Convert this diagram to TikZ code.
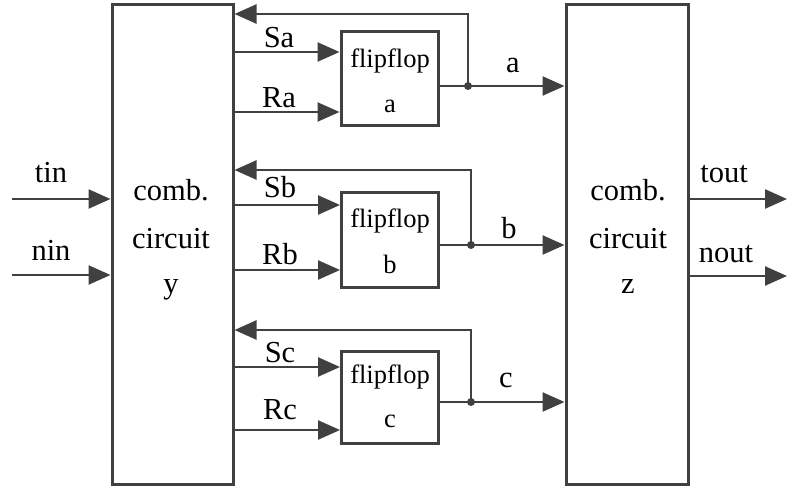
\documentclass[tikz,border=0pt]{standalone}
\usepackage{fontspec}
\setmainfont{Liberation Serif}
\usetikzlibrary{arrows.meta,calc}
\begin{document}
\begin{tikzpicture}[x=1pt,y=-1pt,
  ln/.style={draw=black!75, line width=2.5pt},
  arr/.style={ln, -{Triangle[length=22pt,width=19pt]}},
  blk/.style={draw=black!75, line width=3pt, fill=white, inner sep=0pt},
  lbl/.style={anchor=base, inner sep=0pt, font=\fontsize{30.5}{36}\selectfont},
  ftxt/.style={anchor=base, inner sep=0pt, font=\fontsize{26.5}{32}\selectfont},
  dot/.style={fill=black!75}]
\useasboundingbox (0,0) rectangle (787,489);

% main blocks
\node[blk, minimum width=121pt, minimum height=479pt] (Y) at (172.5,244.5) {};
\node[blk, minimum width=122pt, minimum height=479pt] (Z) at (627,244.5) {};
\node[lbl] (y1) at (171,201) {comb.};
\node[lbl] (y2) at (171,248) {circuit};
\node[lbl] (y3) at (171,293) {y};
\node[lbl] (z1) at (628,201) {comb.};
\node[lbl] (z2) at (628,248) {circuit};
\node[lbl] (z3) at (628,293) {z};

% flipflops
\node[blk, minimum width=97pt, minimum height=94pt] (fa) at (389.5,79) {};
\node[blk, minimum width=97pt, minimum height=94pt] (fb) at (390,240) {};
\node[blk, minimum width=97pt, minimum height=92pt] (fc) at (390,397) {};
\node[ftxt] (fa1) at (390,68) {flipflop};
\node[ftxt] (fa2) at (390,113) {a};
\node[ftxt] (fb1) at (390,228) {flipflop};
\node[ftxt] (fb2) at (390,273) {b};
\node[ftxt] (fc1) at (390,383) {flipflop};
\node[ftxt] (fc2) at (390,427) {c};

% inputs
\coordinate (tin0) at (12,199);
\coordinate (nin0) at (12,275);
\draw[arr] (tin0) -- (Y.west |- tin0);
\draw[arr] (nin0) -- (Y.west |- nin0);
\node[lbl] (ltin) at (51,183) {tin};
\node[lbl] (lnin) at (51,260) {nin};

% outputs
\coordinate (tout0) at (787,199);
\coordinate (nout0) at (787,276);
\draw[arr] (Z.east |- tout0) -- (tout0);
\draw[arr] (Z.east |- nout0) -- (nout0);
\node[lbl] (ltout) at (724,183) {tout};
\node[lbl] (lnout) at (726,262) {nout};

% set / reset lines
\coordinate (sa) at (0,52);  \coordinate (ra) at (0,112);
\coordinate (sb) at (0,205); \coordinate (rb) at (0,270);
\coordinate (sc) at (0,367); \coordinate (rc) at (0,430);
\draw[arr] (Y.east |- sa) -- (fa.west |- sa);
\draw[arr] (Y.east |- ra) -- (fa.west |- ra);
\draw[arr] (Y.east |- sb) -- (fb.west |- sb);
\draw[arr] (Y.east |- rb) -- (fb.west |- rb);
\draw[arr] (Y.east |- sc) -- (fc.west |- sc);
\draw[arr] (Y.east |- rc) -- (fc.west |- rc);
\node[lbl] (lSa) at (279,48) {Sa};
\node[lbl] (lRa) at (279,108) {Ra};
\node[lbl] (lSb) at (280,198) {Sb};
\node[lbl] (lRb) at (280,265) {Rb};
\node[lbl] (lSc) at (280,362) {Sc};
\node[lbl] (lRc) at (280,419) {Rc};

% outputs of flipflops with feedback
\coordinate (ja) at (468,86);  \coordinate (ka) at (468,14);
\coordinate (jb) at (471,245); \coordinate (kb) at (471,170);
\coordinate (jc) at (471,402); \coordinate (kc) at (471,330);
\draw[arr] (fa.east |- ja) -- (Z.west |- ja);
\draw[arr] (fb.east |- jb) -- (Z.west |- jb);
\draw[arr] (fc.east |- jc) -- (Z.west |- jc);
\draw[arr] (ja) -- (ka) -- (Y.east |- ka);
\draw[arr] (jb) -- (kb) -- (Y.east |- kb);
\draw[arr] (jc) -- (kc) -- (Y.east |- kc);
\fill[dot] (ja) circle (4pt);
\fill[dot] (jb) circle (4pt);
\fill[dot] (jc) circle (4pt);
\node[lbl] (la) at (513,73) {a};
\node[lbl] (lb) at (509,238) {b};
\node[lbl] (lc) at (506,387) {c};
\end{tikzpicture}
\end{document}
